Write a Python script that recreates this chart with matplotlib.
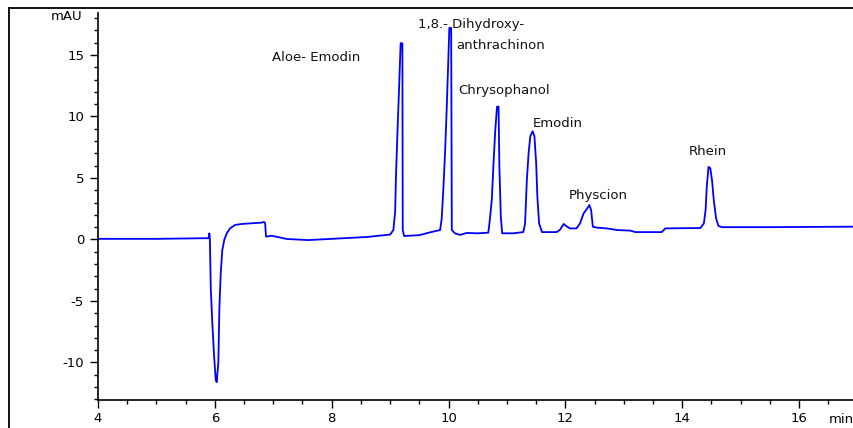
import numpy as np
import matplotlib.pyplot as plt
from matplotlib.ticker import MultipleLocator
from matplotlib.lines import Line2D

# chromatogram trace (time in min, signal in mAU)
time_min = [4.0, 5.0, 5.8, 5.89, 5.906, 5.915, 5.93, 5.957, 5.986, 6.015, 6.032,
            6.06, 6.077, 6.101, 6.128, 6.163, 6.204, 6.26, 6.346, 6.461, 6.80,
            6.842, 6.86, 6.876, 6.973, 7.116, 7.23, 7.6, 8.0, 8.6, 9.0,
            9.056, 9.086, 9.10, 9.125, 9.154, 9.18, 9.21, 9.216, 9.24, 9.5,
            9.685, 9.856, 9.883, 9.91, 9.94, 9.97, 9.998, 10.014, 10.045, 10.056,
            10.11, 10.2, 10.31, 10.5, 10.68, 10.70, 10.74, 10.77, 10.80, 10.83,
            10.856, 10.87, 10.895, 10.918, 11.11, 11.28, 11.31, 11.34, 11.37, 11.40,
            11.44, 11.47, 11.50, 11.52, 11.55, 11.60, 11.85, 11.91, 11.97, 12.03,
            12.08, 12.19, 12.25, 12.31, 12.37, 12.41, 12.44, 12.47, 12.54, 12.71,
            12.88, 13.11, 13.2, 13.65, 13.71, 14.31, 14.37, 14.40, 14.42, 14.45,
            14.48, 14.51, 14.54, 14.58, 14.62, 14.68, 15.5, 16.2, 16.94]
signal_mau = [0.05, 0.05, 0.1, 0.1, 0.5, 0.1, -3.9, -6.8, -9.4, -11.4, -11.6,
              -10.0, -5.7, -2.7, -0.85, 0.0, 0.5, 0.9, 1.18, 1.26, 1.37,
              1.42, 1.35, 0.23, 0.3, 0.16, 0.04, -0.05, 0.05, 0.2, 0.4,
              0.77, 2.26, 5.1, 8.6, 12.4, 15.95, 15.95, 0.77, 0.28, 0.35,
              0.58, 0.77, 1.7, 4.0, 7.0, 10.8, 14.9, 17.2, 17.2, 0.77,
              0.5, 0.37, 0.53, 0.5, 0.55, 1.3, 3.2, 6.2, 8.9, 10.8,
              10.8, 5.9, 1.85, 0.5, 0.5, 0.6, 1.3, 4.8, 7.0, 8.4,
              8.8, 8.4, 6.2, 3.5, 1.3, 0.6, 0.6, 0.8, 1.26, 1.04,
              0.9, 0.9, 1.3, 2.1, 2.5, 2.8, 2.4, 1.04, 0.96, 0.9,
              0.77, 0.72, 0.6, 0.6, 0.9, 0.93, 1.3, 2.4, 4.3, 5.9,
              5.8, 4.8, 3.2, 1.7, 1.1, 1.0, 1.0, 1.02, 1.04]

# peak labels: text, left x (min), y (mAU)
peak_names = ['Aloe- Emodin', '1,8.- Dihydroxy-', 'anthrachinon', 'Chrysophanol',
              'Emodin', 'Physcion', 'Rhein']
label_x = [6.98, 9.48, 10.13, 10.17, 11.44, 12.05, 14.12]
label_y = [14.76, 17.44, 15.8, 12.15, 9.45, 3.6, 7.14]

plt.rcParams['font.family'] = 'DejaVu Sans'
plt.rcParams['font.size'] = 9.5
plt.rcParams['axes.unicode_minus'] = False

fig = plt.figure(figsize=(8.54, 4.28), dpi=100)
ax = fig.add_axes([98 / 854, 28 / 428, 1 - 98 / 854, (415 - 28) / 428])

ax.plot(time_min, signal_mau, color='#0000ff', lw=1.3)

for name, x, y in zip(peak_names, label_x, label_y):
    ax.text(x, y, name, ha='left', va='center', fontsize=9.5, color='#111111')

ax.set_xlim(4, 16.94)
ax.set_ylim(-13.05, 18.41)
ax.xaxis.set_major_locator(MultipleLocator(2))
ax.xaxis.set_minor_locator(MultipleLocator(0.5))
ax.yaxis.set_major_locator(MultipleLocator(5))
ax.yaxis.set_minor_locator(MultipleLocator(1))
ax.tick_params(which='major', length=6, width=1, labelsize=9.5)
ax.tick_params(axis='x', which='major', pad=3)
ax.tick_params(axis='y', which='major', pad=4)
ax.tick_params(which='minor', length=3, width=1)
ax.spines['top'].set_visible(False)
ax.spines['right'].set_visible(False)
ax.spines['left'].set_linewidth(1.2)
ax.spines['bottom'].set_linewidth(1.2)

ax.text(-16 / 756, 18.1, 'mAU', transform=ax.get_yaxis_transform(),
        ha='right', va='center', fontsize=9.5)
ax.text(16.5, -13 / 387, 'min', transform=ax.get_xaxis_transform(),
        ha='left', va='top', fontsize=9.5)

# outer frame (left and top edges of the original panel)
fig.add_artist(Line2D([9.5 / 854, 9.5 / 854], [0, 1 - 7.5 / 428], color='black', lw=1.3,
                      transform=fig.transFigure))
fig.add_artist(Line2D([9.5 / 854, 1], [1 - 7.5 / 428, 1 - 7.5 / 428], color='black', lw=1.3,
                      transform=fig.transFigure))

fig.savefig('out.png', dpi=100)
